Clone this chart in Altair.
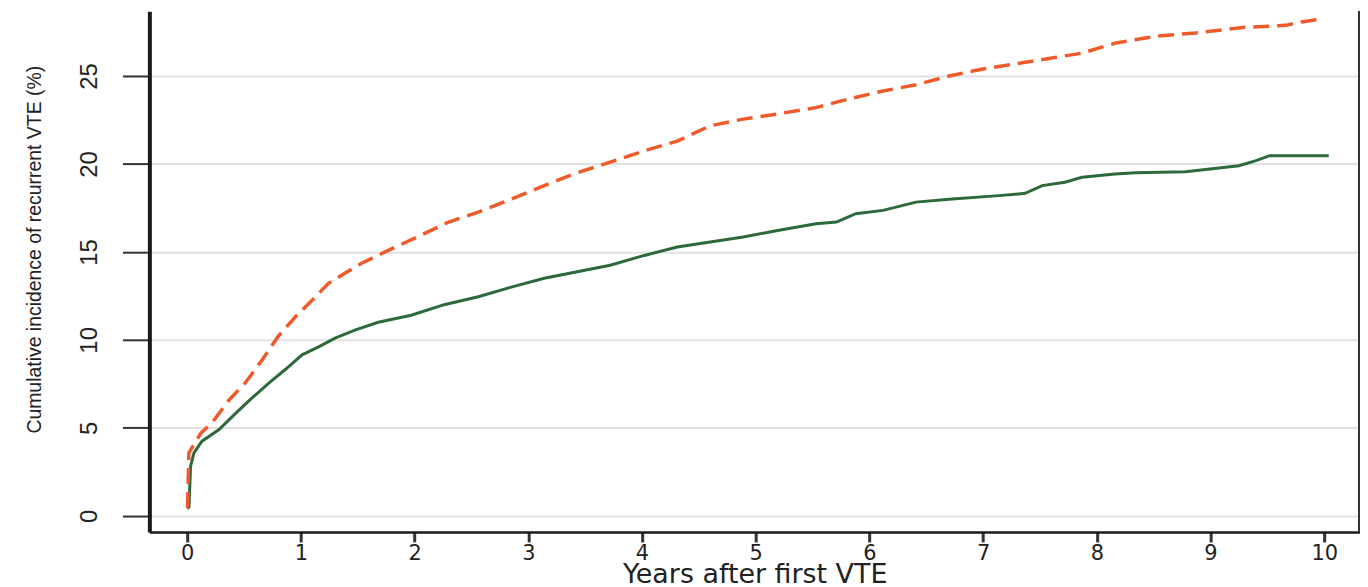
import altair as alt
import pandas as pd

# Orange dashed series (upper curve)
years_orange = [0.0, 0.003, 0.015, 0.07, 0.12, 0.22, 0.37, 0.51, 0.66, 0.80, 0.95, 1.10, 1.24,
                1.39, 1.53, 1.74, 2.04, 2.30, 2.56, 2.85, 3.14, 3.43, 3.72, 4.02, 4.31, 4.60,
                4.89, 5.18, 5.53, 5.82, 6.12, 6.41, 6.70, 7.00, 7.29, 7.58, 7.87, 8.17, 8.52,
                8.87, 9.31, 9.66, 9.80, 10.0]
cuminc_orange = [0.45, 0.57, 3.6, 4.15, 4.7, 5.3, 6.6, 7.55, 8.87, 10.2, 11.3, 12.26, 13.2,
                 13.8, 14.34, 15.0, 15.9, 16.7, 17.26, 18.0, 18.77, 19.5, 20.1, 20.75, 21.3,
                 22.17, 22.55, 22.83, 23.2, 23.7, 24.15, 24.5, 25.0, 25.4, 25.7, 26.0, 26.3,
                 26.88, 27.26, 27.45, 27.77, 27.88, 28.07, 28.26]

# Green solid series (lower curve)
years_green = [0.0, 0.015, 0.03, 0.06, 0.13, 0.28, 0.43, 0.57, 0.72, 0.86, 1.01, 1.16, 1.30,
               1.48, 1.68, 1.97, 2.26, 2.56, 2.85, 3.14, 3.43, 3.72, 4.02, 4.31, 4.60, 4.89,
               5.18, 5.53, 5.71, 5.88, 6.12, 6.41, 6.70, 7.14, 7.37, 7.52, 7.72, 7.87, 8.16,
               8.34, 8.78, 9.25, 9.40, 9.52, 10.04]
cuminc_green = [0.4, 0.49, 2.83, 3.59, 4.24, 4.9, 5.85, 6.7, 7.55, 8.3, 9.15, 9.62, 10.1,
                10.57, 11.0, 11.4, 12.0, 12.45, 13.0, 13.5, 13.87, 14.24, 14.8, 15.28, 15.56,
                15.85, 16.2, 16.6, 16.7, 17.17, 17.36, 17.83, 18.0, 18.2, 18.33, 18.77, 18.96,
                19.24, 19.43, 19.5, 19.56, 19.9, 20.19, 20.47, 20.47]

x_ticks = [0, 1, 2, 3, 4, 5, 6, 7, 8, 9, 10]
y_ticks = [0, 5, 10, 15, 20, 25]

df_o = pd.DataFrame({"year": years_orange, "inc": cuminc_orange})
df_g = pd.DataFrame({"year": years_green, "inc": cuminc_green})

W, H = 1216, 523
SANS = "'Liberation Sans', Arial, sans-serif"

x_scale = alt.Scale(domain=[-0.333, 10.315], nice=False, zero=False)
y_scale = alt.Scale(domain=[-0.92, 28.68], nice=False, zero=False)

x_axis = alt.Axis(
    values=x_ticks, format="d", title="Years after first VTE", grid=False,
    domainColor="#1a1a1a", domainWidth=2.5,
    tickColor="#333333", tickWidth=3, tickSize=10,
    labelFont="DejaVu Sans", labelFontSize=21, labelColor="#222222", labelPadding=1,
    labelFlush=False,
    titleFont="DejaVu Sans", titleFontSize=27, titleFontWeight="normal", titleColor="#222222",
    titleBaseline="alphabetic", titleY=51, titleX=W / 2, titleAlign="center",
)
y_axis = alt.Axis(
    values=y_ticks, title="Cumulative incidence of recurrent VTE (%)",
    grid=True, gridColor="#e2e2e2", gridWidth=2,
    domainColor="#1a1a1a", domainWidth=4,
    tickColor="#333333", tickWidth=2, tickSize=27,
    labelFont=SANS, labelFontSize=24,
    labelColor="#222222", labelAngle=-90, labelAlign="center", labelBaseline="middle",
    labelPadding=33, labelFlush=False,
    titleFont=SANS, titleFontSize=19.5,
    titleFontWeight="normal", titleColor="#222222", titleAngle=-90,
    titleAlign="center", titleBaseline="middle", titleX=-115, titleY=239,
)

green = alt.Chart(df_g).mark_line(color="#2c6a3c", strokeWidth=3).encode(
    x=alt.X("year:Q", scale=x_scale, axis=x_axis),
    y=alt.Y("inc:Q", scale=y_scale, axis=y_axis),
)
orange = alt.Chart(df_o).mark_line(color="#ef5a2a", strokeWidth=3.5, strokeDash=[16, 8]).encode(
    x=alt.X("year:Q", scale=x_scale),
    y=alt.Y("inc:Q", scale=y_scale),
)
border = alt.Chart(df_g).mark_rule(color="#333333", strokeWidth=3).encode(
    x=alt.value(W), y=alt.value(0), y2=alt.value(H)
)

chart = alt.layer(green, orange, border).properties(
    width=W, height=H,
    autosize=alt.AutoSizeParams(type="none"),
    padding={"left": 142, "top": 2, "right": 0, "bottom": 54},
    background="white",
).configure_view(stroke=None)

chart.save("out.html", embed_options={"renderer": "svg", "actions": False})
